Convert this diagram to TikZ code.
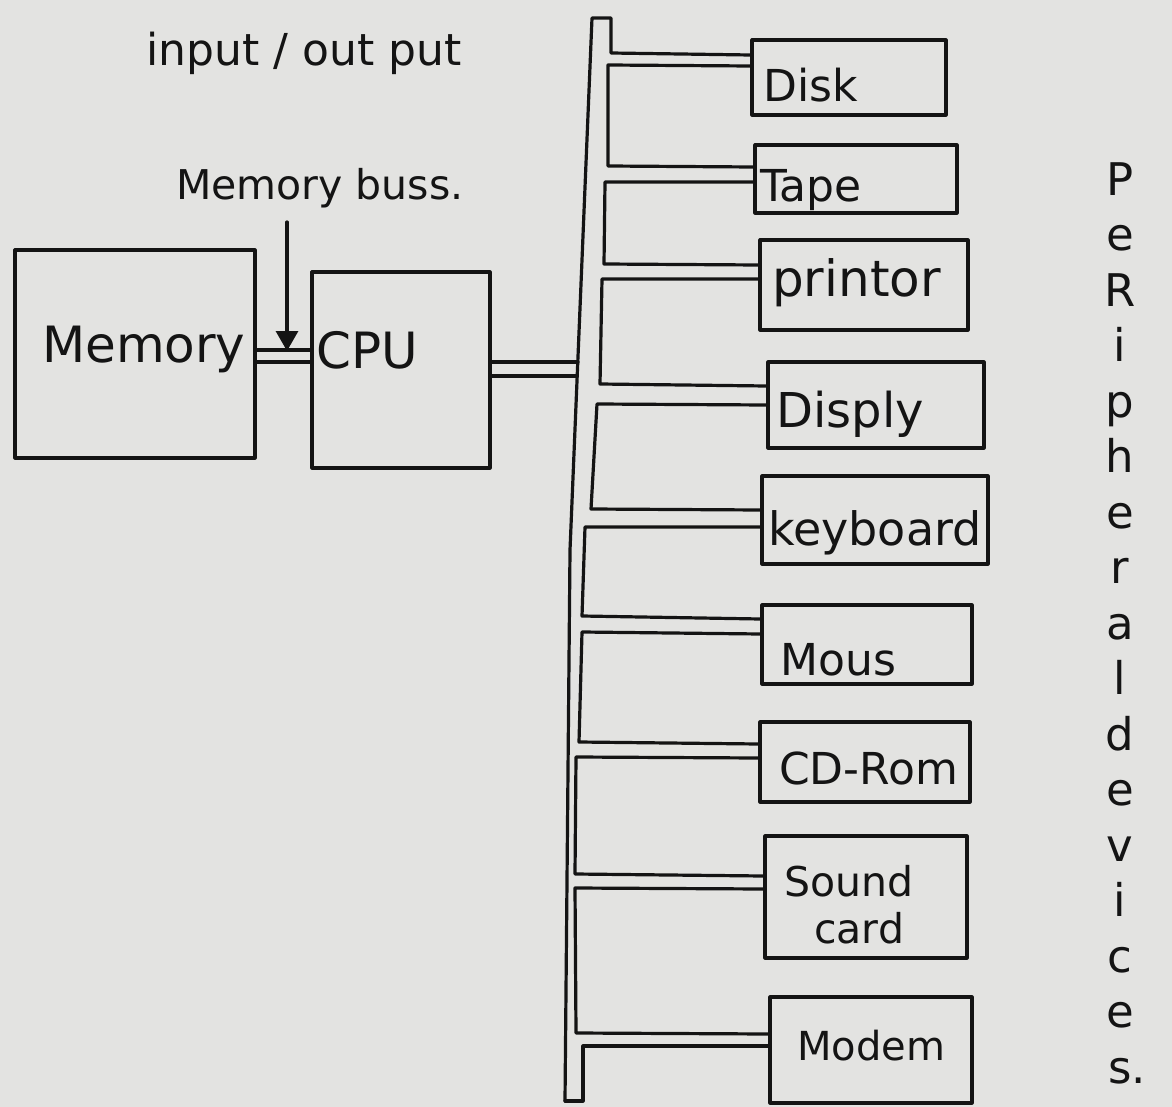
\documentclass[tikz,border=0pt]{standalone}
\usepackage{fontspec}
\setmainfont{DejaVu Sans}
\usetikzlibrary{arrows.meta}
\definecolor{paper}{HTML}{E3E3E1}
\definecolor{ink}{HTML}{141414}
\begin{document}
\begin{tikzpicture}[x=1pt,y=-1pt,
  inkline/.style={draw=ink, line width=3.2pt, line join=round, line cap=round},
  devbox/.style={inkline, rectangle, inner sep=0pt},
  lab/.style={text=ink, inner sep=0pt, anchor=base west, font=\fontsize{44}{50}\selectfont},
  big/.style={text=ink, inner sep=0pt, anchor=base west, font=\fontsize{#1}{#1}\selectfont}]
\useasboundingbox (0,0) rectangle (1172,1107);
\fill[paper] (0,0) rectangle (1172,1107);

% headings
\node[big=44] (io) at (146,66) {input / out put};
\node[big=41] (membus) at (176,200) {Memory buss.};

% memory and cpu
\node[devbox, minimum width=240pt, minimum height=208pt] (memory) at (135,354) {};
\node[big=50] (memory-t) at (42,362) {Memory};
\node[devbox, minimum width=178pt, minimum height=196pt] (cpu) at (401,370) {};
\node[big=50] (cpu-t) at (316,368) {CPU};

% devices
\node[devbox, minimum width=194pt, minimum height=75pt]  (disk)     at (849,77.5) {};
\node[devbox, minimum width=202pt, minimum height=68pt]  (tape)     at (856,179) {};
\node[devbox, minimum width=208pt, minimum height=90pt]  (printor)  at (864,285) {};
\node[devbox, minimum width=216pt, minimum height=86pt]  (disply)   at (876,405) {};
\node[devbox, minimum width=226pt, minimum height=88pt]  (keyboard) at (875,520) {};
\node[devbox, minimum width=210pt, minimum height=79pt]  (mous)     at (867,644.5) {};
\node[devbox, minimum width=210pt, minimum height=80pt]  (cdrom)    at (865,762) {};
\node[devbox, minimum width=202pt, minimum height=122pt] (sound)    at (866,897) {};
\node[devbox, minimum width=202pt, minimum height=106pt] (modem)    at (871,1050) {};

\node[lab] (disk-t) at (763,102) {Disk};
\node[lab] (tape-t) at (760,202) {Tape};
\node[lab, font=\fontsize{50}{50}\selectfont] (printor-t) at (772,296) {printor};
\node[lab, font=\fontsize{48}{50}\selectfont] (disply-t) at (776,427) {Disply};
\node[lab, font=\fontsize{46}{50}\selectfont] (keyboard-t) at (768,545) {keyboard};
\node[lab] (mous-t) at (780,675) {Mous};
\node[lab] (cdrom-t) at (779,784) {CD-Rom};
\node[lab, font=\fontsize{41}{47}\selectfont] (sound-t) at (784,896) {Sound};
\node[lab, font=\fontsize{41}{47}\selectfont] (card-t) at (814,943) {card};
\node[lab, font=\fontsize{40}{50}\selectfont] (modem-t) at (797,1060) {Modem};

% peripheral devices (vertical)
\node[text=ink, inner sep=0pt, anchor=north, align=center,
      font=\fontsize{45}{55.5}\selectfont] (periph) at (1120,162)
  {P\\e\\R\\i\\p\\h\\e\\r\\a\\l\\d\\e\\v\\i\\c\\e\\s\rlap{.}};

% memory bus between memory and cpu
\draw[inkline] (memory.east |- 0,350) -- (cpu.west |- 0,350);
\draw[inkline] (memory.east |- 0,362) -- (cpu.west |- 0,362);
\coordinate (arrtop) at (287,222);
\draw[inkline, -{Triangle[length=20pt,width=22pt]}] (arrtop) -- (287,351);

% system bus
\coordinate (btop) at (592,18);
\coordinate (bmid) at (570,550);
\coordinate (bbot) at (565,1101);
\coordinate (j1) at (578,362);
\coordinate (j2) at (577,376);
\draw[inkline] (cpu.east |- j1) -- (j1);
\draw[inkline] (cpu.east |- j2) -- (j2);

\draw[inkline] (bbot) -- (bmid) -- (btop) -- (611,18) -- (611,53) -- (disk.west |- 0,55);
\draw[inkline] (disk.west |- 0,66) -- (608,65) -- (608,166) -- (tape.west |- 0,167);
\draw[inkline] (tape.west |- 0,182) -- (605,182) -- (604,264) -- (printor.west |- 0,265);
\draw[inkline] (printor.west |- 0,279) -- (602,279) -- (600,384) -- (disply.west |- 0,386);
\draw[inkline] (disply.west |- 0,405) -- (597,404) -- (591,509) -- (keyboard.west |- 0,510);
\draw[inkline] (keyboard.west |- 0,527) -- (585,527) -- (582,616) -- (mous.west |- 0,619);
\draw[inkline] (mous.west |- 0,634) -- (582,632) -- (579,742) -- (cdrom.west |- 0,744);
\draw[inkline] (cdrom.west |- 0,758) -- (576,757) -- (575,874) -- (sound.west |- 0,876);
\draw[inkline] (sound.west |- 0,889) -- (575,888) -- (576,1033) -- (modem.west |- 0,1034);
\draw[inkline] (modem.west |- 0,1046) -- (583,1046) -- (583,1101) -- (bbot);
\end{tikzpicture}
\end{document}
